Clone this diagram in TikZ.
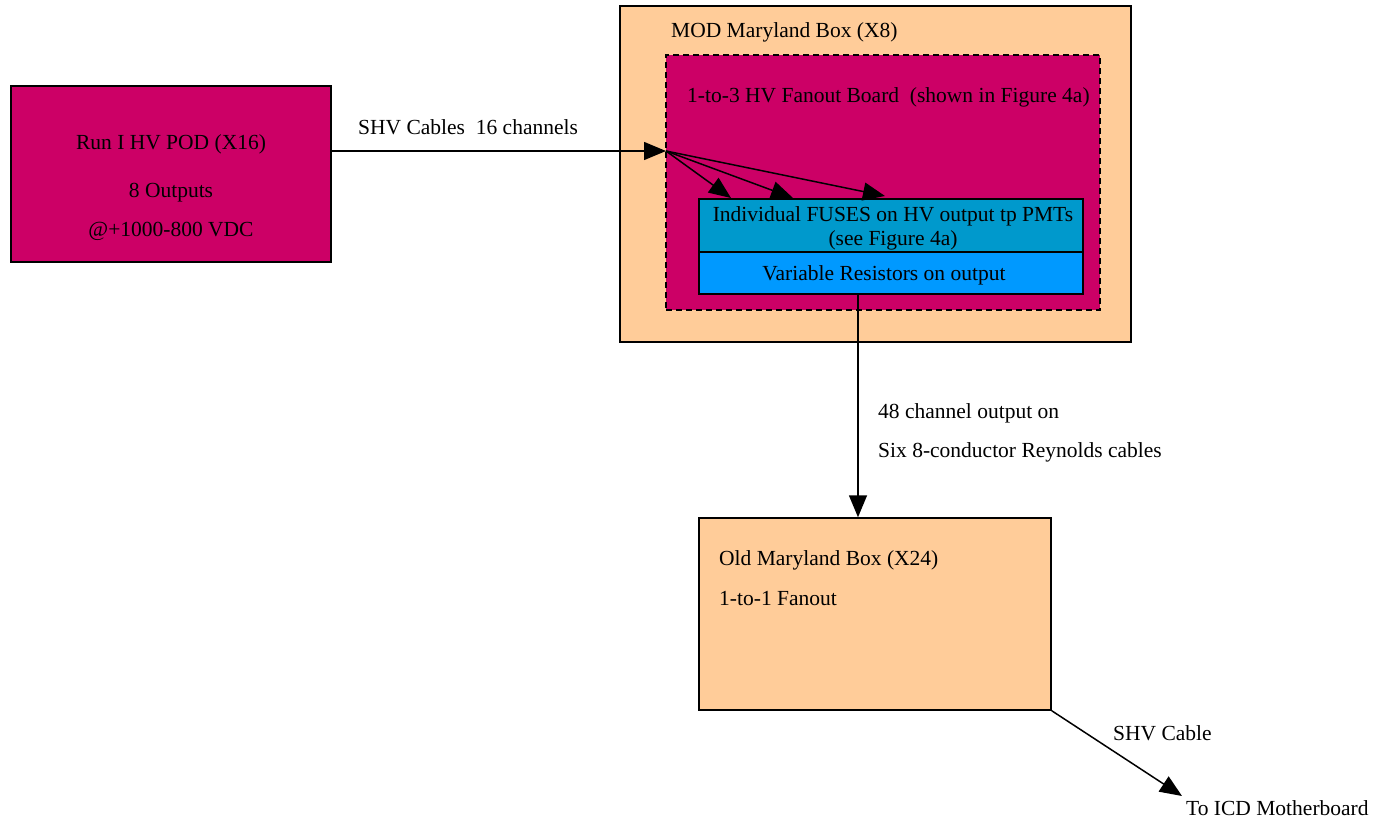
\documentclass[tikz,border=0pt]{standalone}
\usepackage{fontspec}
\setmainfont{Liberation Serif}
\usetikzlibrary{arrows.meta,calc}
\definecolor{magbox}{HTML}{CC0066}
\definecolor{orbox}{HTML}{FFCC99}
\definecolor{tealbox}{HTML}{0099CC}
\definecolor{bluebox}{HTML}{0099FF}
\begin{document}
\begin{tikzpicture}[x=1pt,y=-1pt,
  box/.style={draw=black,line width=1.5pt,rectangle,inner sep=0pt},
  lbl/.style={inner sep=0pt,font=\fontsize{21.5}{25}\selectfont,text=black},
  conn/.style={line width=1.5pt,-{Triangle[length=22pt,width=18pt]}},
  plain/.style={line width=1.5pt}]
\useasboundingbox (0,0) rectangle (1374,822);
% boxes
\node[box,fill=magbox,minimum width=320pt,minimum height=176pt] (pod) at (171,174) {};
\node[box,fill=orbox,minimum width=511pt,minimum height=336pt] (mod) at (875.5,174) {};
\node[box,fill=magbox,dashed,dash pattern=on 6pt off 4pt,minimum width=434pt,minimum height=255pt] (fan) at (883,182.5) {};
\node[box,fill=tealbox,minimum width=384pt,minimum height=53pt] (fuses) at (891,225.5) {};
\node[box,fill=bluebox,minimum width=384pt,minimum height=42pt] (varres) at (891,273) {};
\node[box,fill=orbox,minimum width=352pt,minimum height=192pt] (old) at (875,614) {};
% texts
\node[lbl,anchor=base] (podt1) at (171,149) {Run I HV POD (X16)};
\node[lbl,anchor=base] (podt2) at (171,197) {8 Outputs};
\node[lbl,anchor=base] (podt3) at (171,236) {@+1000-800 VDC};
\node[lbl,anchor=base west] (modt) at (671,37) {MOD Maryland Box (X8)};
\node[lbl,anchor=base west] (fant) at (687,102) {1-to-3 HV Fanout Board\ \ (shown in Figure 4a)};
\node[lbl,anchor=base] (fust1) at (893,221) {Individual FUSES on HV output tp PMTs};
\node[lbl,anchor=base] (fust2) at (893,245) {(see Figure 4a)};
\node[lbl,anchor=base] (vart) at (884,280) {Variable Resistors on output};
\node[lbl,anchor=base west] (oldt1) at (719,565) {Old Maryland Box (X24)};
\node[lbl,anchor=base west] (oldt2) at (719,605) {1-to-1 Fanout};
\node[lbl,anchor=base west] (shvt) at (358,134) {SHV Cables\ \ 16 channels};
\node[lbl,anchor=base west] (cht1) at (878,418) {48 channel output on};
\node[lbl,anchor=base west] (cht2) at (878,457) {Six 8-conductor Reynolds cables};
\node[lbl,anchor=base west] (shv2t) at (1113,740) {SHV Cable};
\node[lbl,anchor=base west] (icd) at (1186,815) {To ICD Motherboard};
% coordinates
\coordinate (fanin) at (666,151);
\coordinate (f1) at (731,198);
\coordinate (f2) at (793,198);
\coordinate (f3) at (885,196);
\coordinate (outx) at (858,0);
\coordinate (icdtip) at (1182,796);
% connectors
\draw[conn] (pod.east |- fanin) -- (fanin);
\draw[conn] (fanin) -- (f1);
\draw[conn] (fanin) -- (f2);
\draw[conn] (fanin) -- (f3);
\draw[conn] (varres.south -| outx) -- (old.north -| outx);
\draw[conn] (old.south east) -- (icdtip);
\end{tikzpicture}
\end{document}
